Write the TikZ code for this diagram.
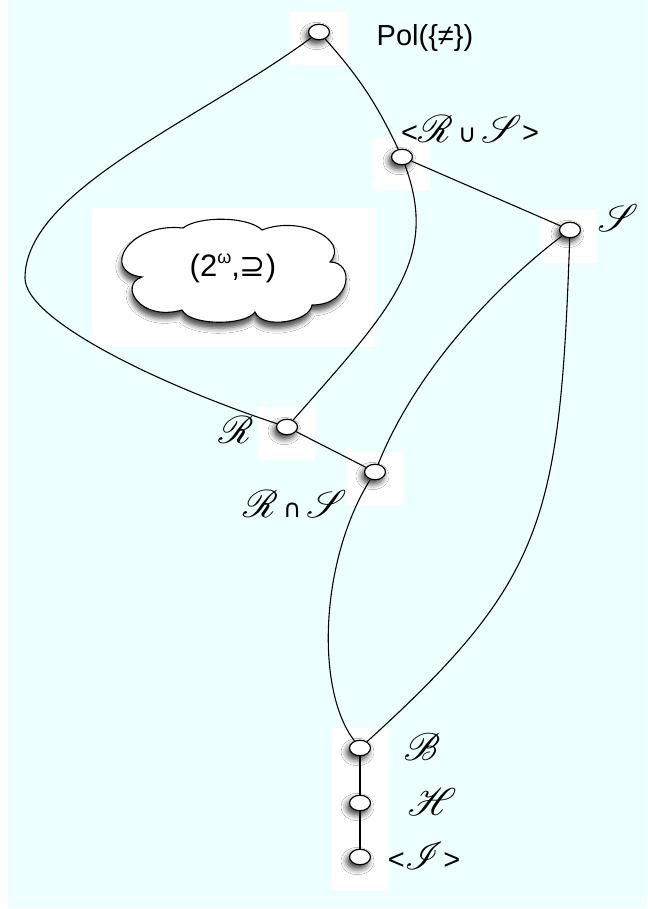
\documentclass[tikz,border=0pt]{standalone}
\usepackage{fontspec}
\setmainfont{Liberation Sans}
\newfontfamily\symfont{DejaVu Sans}
\usepackage{mathrsfs}
\usepackage{graphicx}
\usetikzlibrary{calc, backgrounds, shapes.geometric, shadows.blur}
\definecolor{skyA}{HTML}{EEFFFF}
\tikzset{
  vert/.style={
    ellipse, draw, fill=white, line width=1.2pt,
    minimum width=21pt, minimum height=15.5pt, inner sep=0pt,
    blur shadow={shadow xshift=-2.5pt, shadow yshift=-4pt,
      shadow blur radius=6pt, shadow opacity=80}
  },
  cloudline/.style={
    draw, fill=white, line width=1.1pt,
    blur shadow={shadow xshift=-1pt, shadow yshift=-6pt,
      shadow blur radius=5pt, shadow opacity=70}
  },
  edge/.style={line width=1.1pt},
  lbl/.style={font=\fontsize{29}{30}\selectfont, inner sep=0pt},
  pad/.style={fill=white, draw=none}
}
\newcommand{\Sc}[1]{\scalebox{1.55}{$\mathscr{#1}$}}
\newcommand{\Op}[1]{{\symfont\fontsize{25}{25}\selectfont #1}}

\begin{document}
\begin{tikzpicture}[x=1pt, y=-1pt]
  \useasboundingbox (0,0) rectangle (647,909);

  \node[vert] (top) at (319,32) {};
  \node[vert] (rus) at (402,157) {};
  \node[vert] (s)   at (570,230) {};
  \node[vert] (r)   at (287,427) {};
  \node[vert] (rns) at (375,472) {};
  \node[vert] (b)   at (360,748) {};
  \node[vert] (h)   at (360,803) {};
  \node[vert] (i)   at (360,857) {};
  \coordinate (west) at (25,278);

  % the cloud
  \path[cloudline] (142,277)
    .. controls (100,272) and (128,222) .. (183,228)
    .. controls (198,216) and (248,216) .. (262,230)
    .. controls (300,215) and (350,240) .. (330,262)
    .. controls (355,262) and (352,305) .. (312,305)
    .. controls (310,322) and (262,330) .. (255,312)
    .. controls (245,326) and (190,326) .. (182,310)
    .. controls (140,322) and (118,285) .. cycle;
  \node[font=\fontsize{31}{32}\selectfont, inner sep=0pt] (lattice) at (233,268)
    {(2\raisebox{0.42em}{\fontsize{18}{18}\selectfont ω},{\symfont ⊇})};

  \node[lbl] (ltop) at (425,38) {Pol(\{≠\})};
  \node[lbl] (lrus) at (470,129) {<\Sc{R}\,\Op{∪}\,\Sc{S}>};
  \node[lbl] (ls)   at (618,218) {\Sc{S}};
  \node[lbl] (lr)   at (236,430) {\Sc{R}};
  \node[lbl] (lrns) at (295,504) {\Sc{R}\,\Op{∩}\,\Sc{S}};
  \node[lbl] (lb)   at (422,747) {\Sc{B}};
  \node[lbl] (lh)   at (432,802) {\Sc{H}};
  \node[lbl] (li)   at (424,856) {<\Sc{I}>};

  \begin{scope}[on background layer]
    \fill[skyA] (8,0) rectangle (647,908);
    \foreach \n in {top,rus,s,r,rns}
      \fill[pad] ($(\n)+(-29,-20)$) rectangle ($(\n)+(28,33)$);
    \fill[pad] ($(b)+(-28,-20)$) rectangle ($(i)+(29,34)$);
    \fill[pad] (92,207) rectangle (375,347);
  \end{scope}

  \draw[edge] (top) .. controls (200,120) and (25,190) .. (west)
    .. controls (25,320) and (160,385) .. (r);
  \draw[edge] (top) to[bend left=8] (rus);
  \draw[edge] (rus) -- (s);
  \draw[edge] (rus) .. controls (440,260) and (390,310) .. (r);
  \draw[edge] (r) -- (rns);
  \draw[edge] (s) .. controls (510,275) and (420,360) .. (rns);
  \draw[edge] (s) .. controls (560,520) and (545,580) .. (b);
  \draw[edge] (rns) .. controls (320,560) and (315,690) .. (b);
  \draw[edge] (b) -- (h);
  \draw[edge] (h) -- (i);
\end{tikzpicture}
\end{document}
